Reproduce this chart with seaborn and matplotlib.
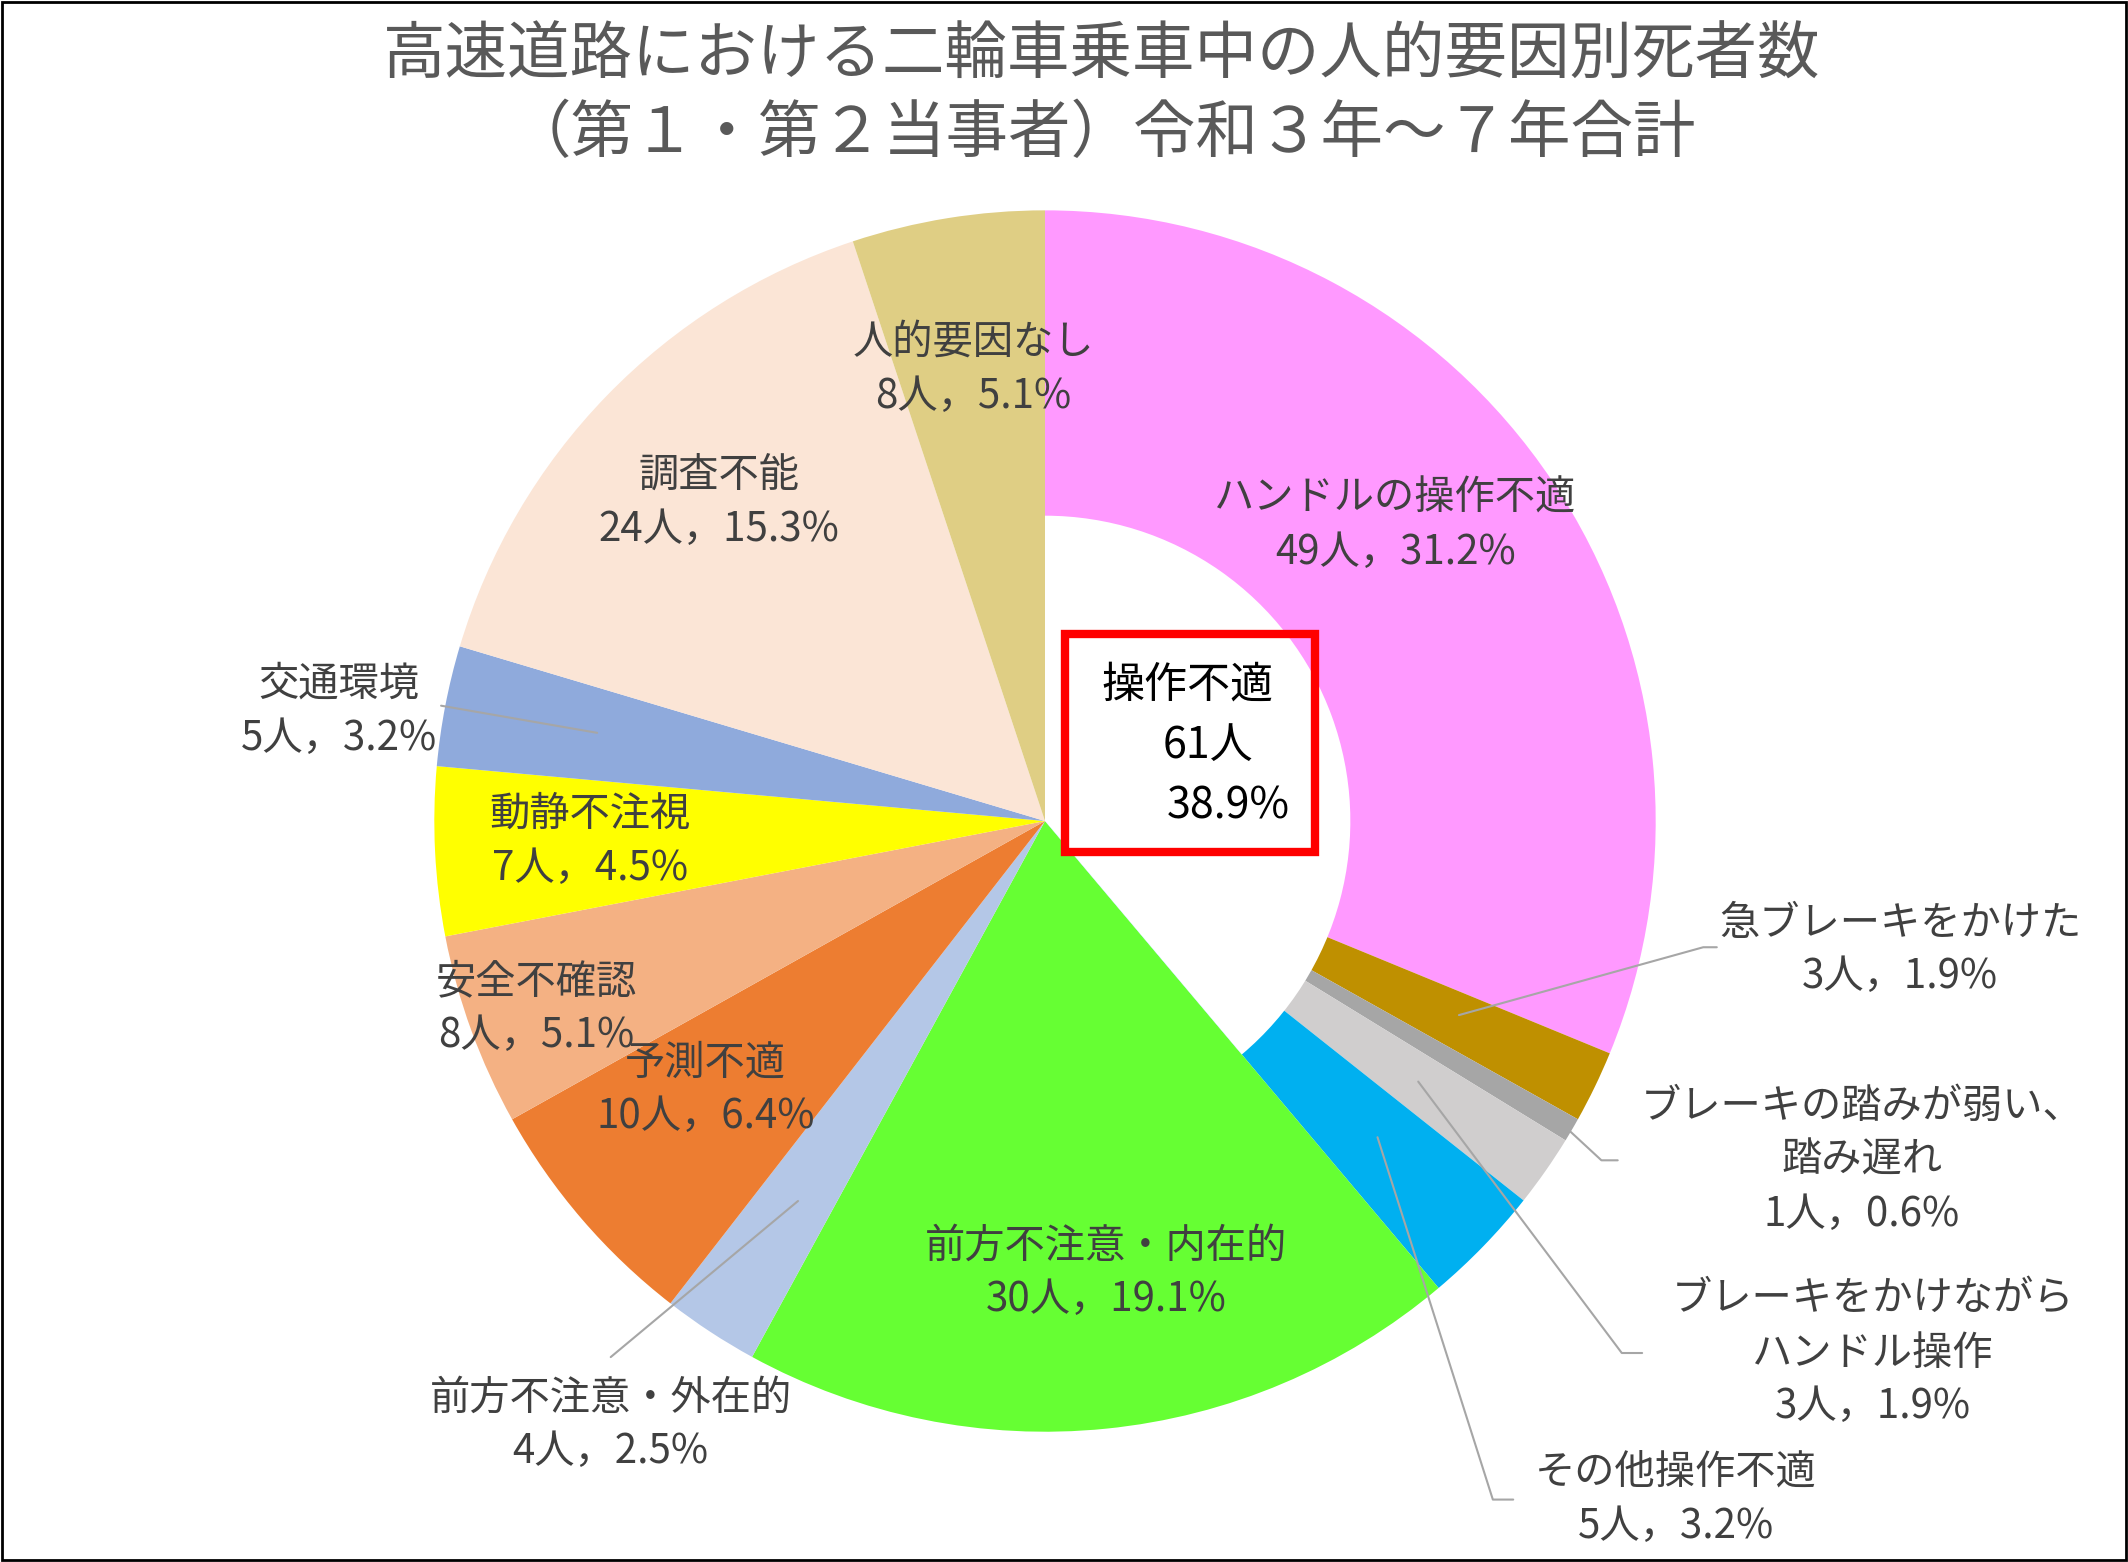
import matplotlib
matplotlib.use("Agg")
import matplotlib.pyplot as plt
from matplotlib.patches import Wedge, Rectangle
from matplotlib.lines import Line2D
import seaborn as sns

sns.set_theme(style="white")
plt.rcParams['font.family'] = ['Noto Sans CJK JP', 'DejaVu Sans']

labels = ["ハンドルの操作不適", "急ブレーキをかけた", "ブレーキの踏みが弱い、\n踏み遅れ",
          "ブレーキをかけながら\nハンドル操作", "その他操作不適", "前方不注意・内在的",
          "前方不注意・外在的", "予測不適", "安全不確認", "動静不注視", "交通環境",
          "調査不能", "人的要因なし"]
counts = [49, 3, 1, 3, 5, 30, 4, 10, 8, 7, 5, 24, 8]
colors = ["#FF99FF", "#BF9000", "#A6A6A6", "#D0CECE", "#00B0F0", "#66FF33",
          "#B4C7E7", "#ED7D31", "#F4B183", "#FFFF00", "#8FAADC", "#FBE5D6", "#DFCE84"]
n_op = 5  # 操作不適 group

total = sum(counts)
W, H = 1568, 1151
fig = plt.figure(figsize=(21.28, 15.62), dpi=100)

cx, cy, r = 770, 605, 450
ax = fig.add_axes([(cx - r) / W, 1 - (cy + r) / H, 2 * r / W, 2 * r / H])
ax.pie(counts, colors=colors, startangle=90, counterclock=False,
       wedgeprops=dict(linewidth=0))
op_angle = 360 * sum(counts[:n_op]) / total
ax.add_patch(Wedge((0, 0), 0.5, 90 - op_angle, 90, color="white", lw=0))
ax.set_xlim(-1, 1)
ax.set_ylim(-1, 1)
ax.axis("off")

def ftext(x, y, s, **kw):
    fig.text(x / W, 1 - y / H, s, ha="center", va="center", fontsize=29,
             color="#404040", linespacing=1.4, **kw)

def fline(xs, ys):
    fig.add_artist(Line2D([x / W for x in xs], [1 - y / H for y in ys],
                          color="#A6A6A6", lw=1.5))

pct = [c / total * 100 for c in counts]
def lab(i):
    return f"{labels[i]}\n{counts[i]}人，{pct[i]:.1f}%"

pos = [(1028, 387), (1400, 700), (1372, 855), (1380, 997), (1235, 1105),
       (815, 938), (450, 1050), (520, 803), (395, 743), (435, 620),
       (250, 524), (530, 370), (717, 272)]
for i, (x, y) in enumerate(pos):
    ftext(x, y, lab(i))

fline([1075, 1255, 1265], [748, 698, 698])
fline([1140, 1180, 1192], [818, 855, 855])
fline([1045, 1195, 1210], [797, 997, 997])
fline([1015, 1100, 1115], [838, 1105, 1105])
fline([450, 588], [1000, 885])
fline([325, 440], [520, 540])

# center callout
fig.add_artist(Rectangle((785 / W, 1 - 628 / H), 184 / W, 161 / H,
                         fill=False, edgecolor="red", lw=6, transform=fig.transFigure))
op_total = sum(counts[:n_op])
fig.text(875 / W, 1 - 505 / H, "操作不適", ha="center", va="center", fontsize=31, color="black")
fig.text(890 / W, 1 - 550 / H, f"{op_total}人", ha="center", va="center", fontsize=31, color="black")
fig.text(905 / W, 1 - 594 / H, f"{op_total / total * 100:.1f}%", ha="center", va="center",
         fontsize=31, color="black")

fig.text(812 / W, 1 - 70 / H, "高速道路における二輪車乗車中の人的要因別死者数\n（第１・第２当事者）令和３年～７年合計",
         ha="center", va="center", fontsize=45, color="#595959", linespacing=1.3)

fig.add_artist(Rectangle((0.001, 0.001), 0.998, 0.998, fill=False, edgecolor="black",
                         lw=2, transform=fig.transFigure))
fig.savefig("out.png", dpi=100)
